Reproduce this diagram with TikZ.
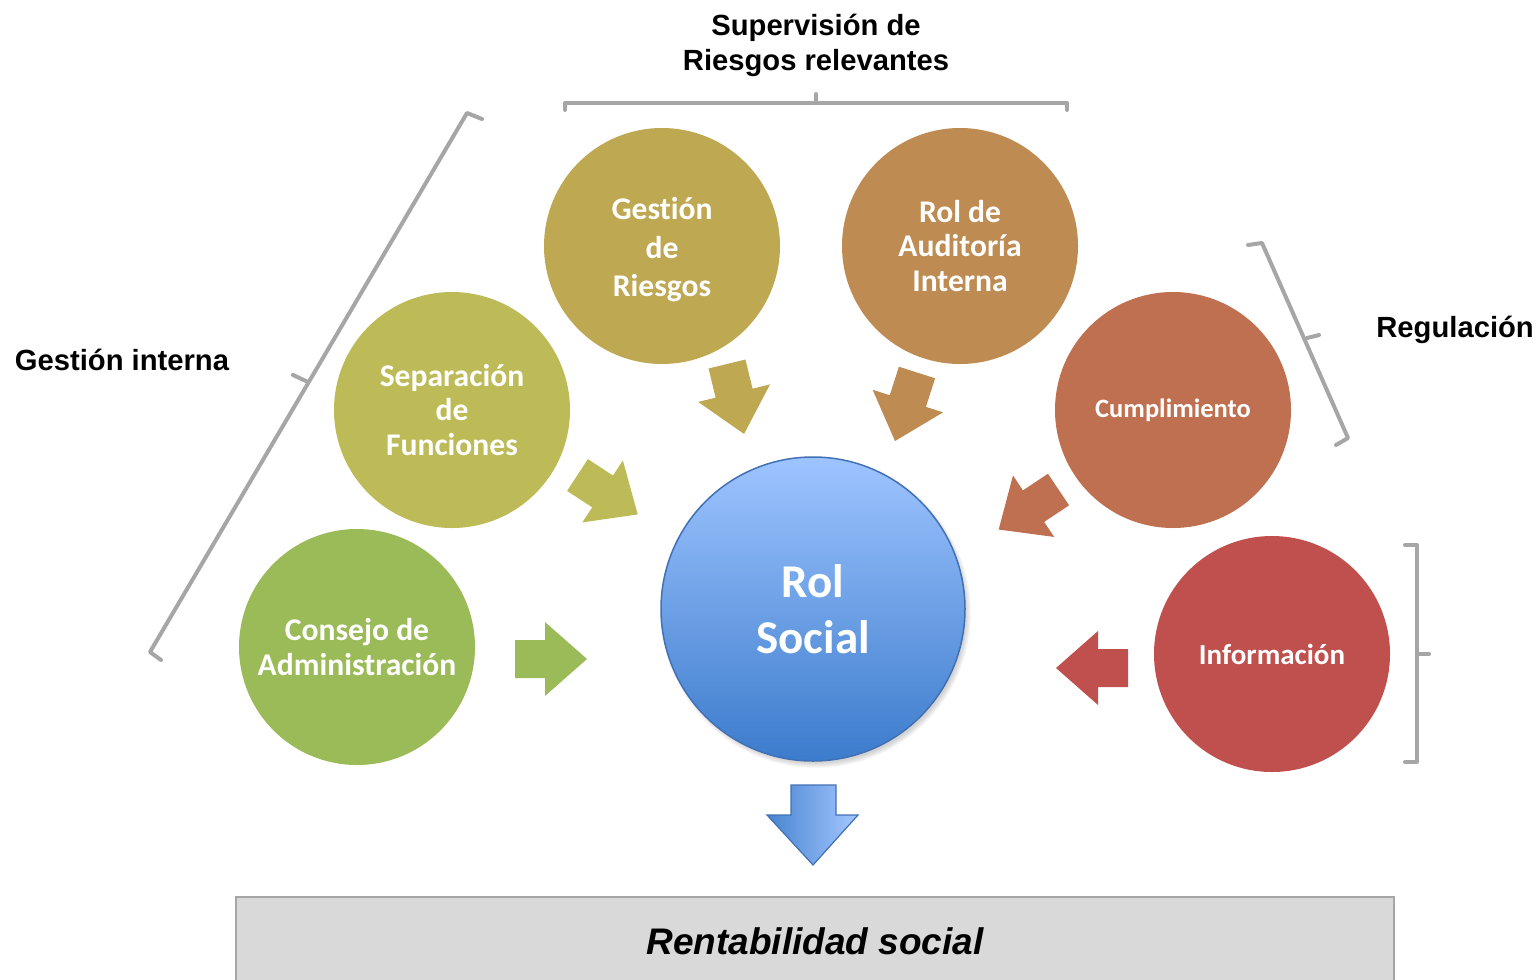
\documentclass[tikz,border=0pt]{standalone}
\usepackage{fontspec}
\setmainfont{Liberation Sans}
\newfontfamily\circfont[Ligatures=NoCommon]{Carlito}
\usetikzlibrary{shapes.geometric}
\definecolor{cGR}{RGB}{191,168,82}
\definecolor{cAUD}{RGB}{190,140,82}
\definecolor{cSEP}{RGB}{189,187,88}
\definecolor{cCUM}{RGB}{191,112,80}
\definecolor{cCON}{RGB}{155,187,89}
\definecolor{cINF}{RGB}{192,80,77}
\definecolor{rolTop}{RGB}{158,196,255}
\definecolor{rolBot}{RGB}{60,124,204}
\definecolor{rolBorder}{RGB}{65,113,180}
\definecolor{bracketgray}{RGB}{166,166,166}
\definecolor{boxfill}{RGB}{217,217,217}
\definecolor{boxborder}{RGB}{166,166,166}
\definecolor{dnLeft}{RGB}{72,132,208}
\definecolor{dnRight}{RGB}{165,199,255}
\tikzset{
  bubble/.style={circle, minimum size=118pt, inner sep=0pt, text=white, align=center,
    font=\circfont\fontsize{15.8}{17.25}\selectfont\bfseries},
  toplabel/.style={inner sep=0pt, align=center, font=\fontsize{14.6}{17.5}\selectfont\bfseries},
  bracket/.style={draw=bracketgray, line width=2pt, line cap=round, line join=round},
  blockarrow/.pic={\fill (0,-19) -- (30,-19) -- (30,-37) -- (72,0) -- (30,37) -- (30,19) -- (0,19) -- cycle;}
}
\begin{document}
\begin{tikzpicture}[x=0.5pt,y=-0.5pt]
\useasboundingbox (0,0) rectangle (1537,980);
\clip (0,0) rectangle (1537,980);

% labels
\node[toplabel] (lsup) at (816,45) {Supervisión de\\Riesgos relevantes};
\node[toplabel] (lgest) at (122,360) {Gestión interna};
\node[toplabel, anchor=west] (lreg) at (1376,330) {Regulación};

% brackets
\draw[bracket] (565,110) -- (565,103) -- (1067,103) -- (1067,110);
\draw[bracket] (816,103) -- (816,94);
\draw[bracket] (482,119) -- (467,113) -- (150,652) -- (161,660);
\draw[bracket] (308,382) -- (293,375);
\draw[bracket] (1248,245) -- (1262,243) -- (1348,438) -- (1336,445);
\draw[bracket] (1307,338) -- (1319,335);
\draw[bracket] (1405,545) -- (1417,545) -- (1417,762) -- (1405,762);
\draw[bracket] (1417,654) -- (1429,654);

% outer circles
\node[bubble, fill=cGR, font=\circfont\fontsize{15.8}{19.25}\selectfont\bfseries] (gr) at (662,246) {};
\node[align=center, text=white, inner sep=0pt, font=\circfont\fontsize{15.8}{19.25}\selectfont\bfseries] (grtext) at (662,250) {Gestión\\de\\Riesgos};
\node[bubble, fill=cAUD] (aud) at (960,246) {Rol de\\Auditoría\\Interna};
\node[bubble, fill=cSEP] (sep) at (452,410) {Separación\\de\\Funciones};
\node[bubble, fill=cCUM, font=\circfont\fontsize{13.25}{16}\selectfont\bfseries] (cum) at (1173,410) {Cumplimiento};
\node[bubble, fill=cCON] (con) at (357,647) {Consejo de\\Administración};
\node[bubble, fill=cINF, font=\circfont\fontsize{14.5}{17}\selectfont\bfseries] (inf) at (1272,654) {Información};

% block arrows
\pic[fill=cGR, rotate=-76.3] at (727,364) {blockarrow};
\pic[fill=cAUD, rotate=-107.8] at (917,372.5) {blockarrow};
\pic[fill=cSEP, rotate=-33.2] at (577.5,475) {blockarrow};
\pic[fill=cCUM, rotate=-146.2] at (1058.5,489.5) {blockarrow};
\pic[fill=cCON, rotate=0] at (515,659) {blockarrow};
\pic[fill=cINF, rotate=180] at (1128,668) {blockarrow};

% central circle with soft shadow
\foreach \k in {1,...,6}
  \fill[black, opacity=0.03] (816,613) circle[radius=149+\k];
\node[circle, minimum size=152pt, inner sep=0pt, draw=rolBorder, line width=0.75pt,
  top color=rolTop, bottom color=rolBot, text=white, align=center,
  font=\circfont\fontsize{23.5}{28}\selectfont\bfseries] (rol) at (813,609) {Rol\\Social};

% down arrow
\draw[draw=rolBorder, line width=0.6pt, left color=dnLeft, right color=dnRight, line join=miter]
  (791,785) -- (836,785) -- (836,815) -- (858,815) -- (813,865) -- (767,815) -- (791,815) -- cycle;

% result box
\node[draw=boxborder, fill=boxfill, line width=1pt, minimum width=579pt, minimum height=44pt,
  inner sep=0pt, font=\fontsize{18.5}{22}\selectfont\bfseries\itshape] (rent) at (815,941) {Rentabilidad social};
\end{tikzpicture}
\end{document}
